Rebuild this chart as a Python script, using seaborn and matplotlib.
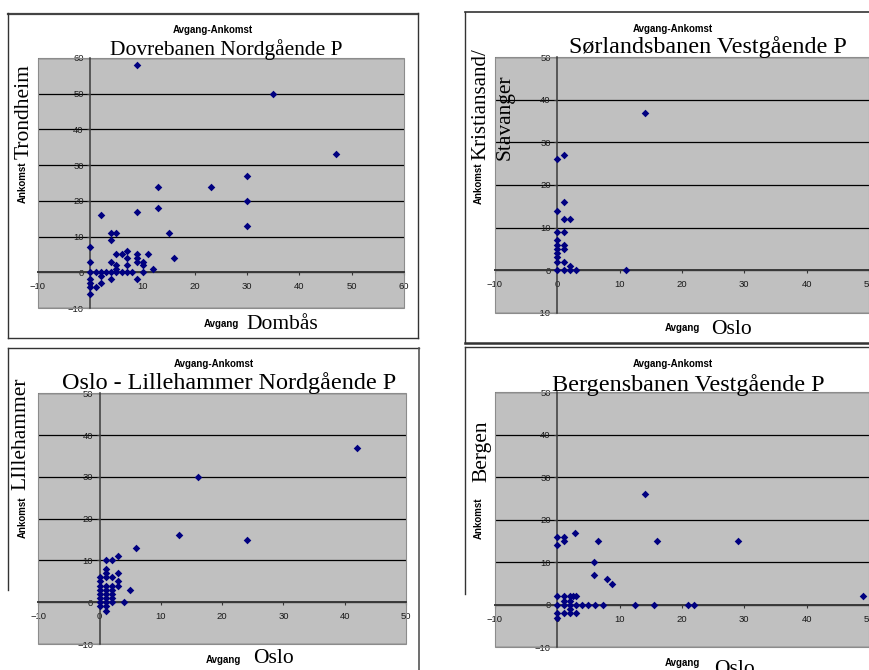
import matplotlib
matplotlib.use("Agg")
import matplotlib.pyplot as plt
import seaborn as sns
from matplotlib.patches import Rectangle
from matplotlib.lines import Line2D

# ---------------- data ----------------
dovre_x = [9, 35, 47, 30, 30, 30, 23, 13, 13, 9, 15, 16, 12, 11, 10, 10, 10,
           9, 9, 9, 9, 2, 4, 5, 4, 0, 0, 0, 0, 0, 0, 0, 1, 1, 2, 2, 2, 3,
           4, 4, 4, 5, 5, 5, 5, 6, 6, 7, 7, 7, 7, 8]
dovre_y = [58, 50, 33, 27, 20, 13, 24, 24, 18, 17, 11, 4, 1, 5, 3, 2, 0,
           5, 4, 3, -2, 16, 11, 11, 9, 7, 3, 0, -2, -3, -4, -6, 0, -4, 0, -1, -3, 0,
           3, 0, -2, 5, 2, 1, 0, 5, 0, 6, 4, 2, 0, 0]

sor_x = [14, 0, 1, 1, 0, 1, 2, 0, 1, 0, 0, 0, 0, 0, 0, 1, 1, 1, 2, 0, 1, 2, 3, 11]
sor_y = [37, 26, 27, 16, 14, 12, 12, 9, 9, 7, 6, 5, 4, 3, 2, 6, 5, 2, 1, 0, 0, 0, 0, 0]

lil_x = [42, 16, 13, 24, 6, 3, 1, 2, 1, 1, 1, 2, 3, 3, 3, 5, 4,
         0, 0, 0, 0, 0, 0, 0, 0,
         1, 1, 1, 1, 1, 1, 1,
         2, 2, 2, 2, 2]
lil_y = [37, 30, 16, 15, 13, 11, 10, 10, 8, 7, 6, 6, 7, 5, 4, 3, 0,
         6, 5, 4, 3, 2, 1, 0, -1,
         4, 3, 2, 1, 0, -1, -2,
         4, 3, 2, 1, 0]

berg_x = [14, 29, 16, 6.6, 49, 0, 0, 1, 1, 2.8, 5.9, 5.9, 8, 8.7,
          0, 1, 2, 3, 4, 5, 6, 7.4, 12.4, 15.5, 21, 22,
          0, 1, 2, 2.5, 3,
          1, 2,
          2,
          0, 1, 2, 3,
          0]
berg_y = [26, 15, 15, 15, 2, 16, 14, 16, 15, 17, 10, 7, 6, 5,
          0, 0, 0, 0, 0, 0, 0, 0, 0, 0, 0, 0,
          2, 2, 2, 2, 2,
          1, 1,
          -1,
          -2, -2, -2, -2,
          -3]

sub_title = "Avgang-Ankomst"
titles = ["Dovrebanen Nordgående P", "Sørlandsbanen Vestgående P",
          "Oslo - Lillehammer Nordgående P", "Bergensbanen Vestgående P"]
x_places = ["Dombås", "Oslo", "Oslo", "Oslo"]
y_places = ["Trondheim", None, "LIllehammer", "Bergen"]
x_small = "Avgang"
y_small = "Ankomst"

W, H = 870, 670
fig = plt.figure(figsize=(8.7, 6.7), dpi=100)
fig.patch.set_facecolor("white")

SERIF = "Liberation Serif"
SANS = "Liberation Sans"


def fx(px):
    return px / W


def fy(py):
    return 1 - py / H


def ftext(x, y, s, **kw):
    fig.text(fx(x), fy(y), s, **kw)


def fline(x1, y1, x2, y2, lw=1.0, color="#333333"):
    fig.add_artist(Line2D([fx(x1), fx(x2)], [fy(y1), fy(y2)],
                          transform=fig.transFigure, color=color, lw=lw))


panels = [
    dict(rect=(38, 58, 404, 308), xlim=(-10, 60), ylim=(-10, 60), x=dovre_x, y=dovre_y),
    dict(rect=(495, 57.3, 869, 312.7), xlim=(-10, 50), ylim=(-10, 50), x=sor_x, y=sor_y),
    dict(rect=(38.3, 393.3, 406, 644), xlim=(-10, 50), ylim=(-10, 50), x=lil_x, y=lil_y),
    dict(rect=(495, 392.3, 869, 647.3), xlim=(-10, 50), ylim=(-10, 50), x=berg_x, y=berg_y),
]

for p in panels:
    x0, y0, x1, y1 = p["rect"]
    ax = fig.add_axes([fx(x0), fy(y1), (x1 - x0) / W, (y1 - y0) / H])
    ax.set_facecolor("#C0C0C0")
    ax.set_axisbelow(True)
    sns.scatterplot(x=p["x"], y=p["y"], ax=ax, marker="D", color="#000080",
                    s=15, linewidth=0, zorder=4)
    ax.set_xlim(*p["xlim"])
    ax.set_ylim(*p["ylim"])
    ax.set_xticks(range(p["xlim"][0], p["xlim"][1] + 1, 10))
    ax.set_yticks(range(p["ylim"][0], p["ylim"][1] + 1, 10))
    ax.yaxis.grid(True, color="black", lw=0.9)
    ax.xaxis.grid(False)
    for side in ("top", "right"):
        ax.spines[side].set_visible(False)
    ax.spines["left"].set_position(("data", 0))
    ax.spines["bottom"].set_position(("data", 0))
    ax.spines["left"].set_color("#3a3a3a")
    ax.spines["left"].set_linewidth(1.1)
    ax.spines["bottom"].set_color("#3a3a3a")
    ax.spines["bottom"].set_linewidth(1.4)
    ax.spines["left"].set_zorder(3)
    ax.spines["bottom"].set_zorder(3)
    ax.add_patch(Rectangle((0, 0), 1, 1, transform=ax.transAxes, fill=False,
                           ec="#8c8c8c", lw=0.8, zorder=2.6, clip_on=False))
    ax.tick_params(axis="both", direction="out", length=2.5, width=0.8,
                   color="#3a3a3a", labelsize=6.8, labelcolor="#1a1a1a")
    ax.tick_params(axis="x", pad=4.5)
    ax.tick_params(axis="y", pad=2.2)
    for lab in ax.get_xticklabels() + ax.get_yticklabels():
        lab.set_fontfamily(SANS)
    ax.set_xlabel("")
    ax.set_ylabel("")

# ---------------- texts ----------------
small = dict(fontfamily=SANS, fontweight="bold", fontsize=7, color="black")
big = dict(fontfamily=SERIF, fontsize=15.5, color="black")
big_title = dict(fontfamily=SERIF, fontsize=17.4, color="black")

# panel 1
ftext(213, 32.7, sub_title, ha="center", va="baseline", **small)
ftext(226, 55, titles[0], ha="center", va="baseline", **big)
ftext(23, 182, y_small, ha="center", va="center", rotation=90, **small)
ftext(24.5, 112, y_places[0], ha="center", va="center", rotation=90, **big)
ftext(221, 327, x_small, ha="center", va="baseline", **small)
ftext(282, 329, x_places[0], ha="center", va="baseline", **big)

# panel 2
ftext(673, 31.7, sub_title, ha="center", va="baseline", **small)
ftext(708, 52.7, titles[1], ha="center", va="baseline", **big_title)
ftext(479, 183, y_small, ha="center", va="center", rotation=90, **small)
ftext(480.5, 160, "Kristiansand/", ha="center", va="bottom", rotation=90,
      fontfamily=SERIF, fontsize=15, color="black")
ftext(505, 160, "Stavanger", ha="center", va="bottom", rotation=90, **big)
ftext(682, 331, x_small, ha="center", va="baseline", **small)
ftext(731, 334, x_places[1], ha="center", va="baseline", **big)

# panel 3
ftext(214, 367.3, sub_title, ha="center", va="baseline", **small)
ftext(229, 389, titles[2], ha="center", va="baseline", **big_title)
ftext(23, 517, y_small, ha="center", va="center", rotation=90, **small)
ftext(21, 434, y_places[2], ha="center", va="center", rotation=90, **big)
ftext(223, 662.7, x_small, ha="center", va="baseline", **small)
ftext(273, 663, x_places[2], ha="center", va="baseline", **big)

# panel 4
ftext(673, 366.7, sub_title, ha="center", va="baseline", **small)
ftext(688, 390.7, titles[3], ha="center", va="baseline", **big_title)
ftext(479, 518, y_small, ha="center", va="center", rotation=90, **small)
ftext(482, 451, y_places[3], ha="center", va="center", rotation=90, **big)
ftext(682, 666, x_small, ha="center", va="baseline", **small)
ftext(735, 674, x_places[3], ha="center", va="baseline", **big)

# ---------------- frames ----------------
# panel 1
fline(8, 13.5, 418, 13.5, lw=1.6, color="#444444")
fline(8, 13, 8, 338, lw=1.0)
fline(418, 13, 418, 338, lw=1.0)
fline(8, 338, 418, 338, lw=1.0)
# panel 2
fline(465, 12, 875, 12, lw=1.2)
fline(465, 12, 465, 343, lw=1.0)
fline(465, 342.7, 875, 342.7, lw=1.8, color="#333333")
# panel 3
fline(8, 348, 419, 348, lw=1.0)
fline(8, 348, 8, 590, lw=1.0)
fline(419, 348, 419, 672, lw=1.2, color="#555555")
# panel 4
fline(465, 347, 875, 347, lw=1.0)
fline(465, 347, 465, 594, lw=1.0)

fig.savefig("out.png", dpi=100, facecolor="white")
